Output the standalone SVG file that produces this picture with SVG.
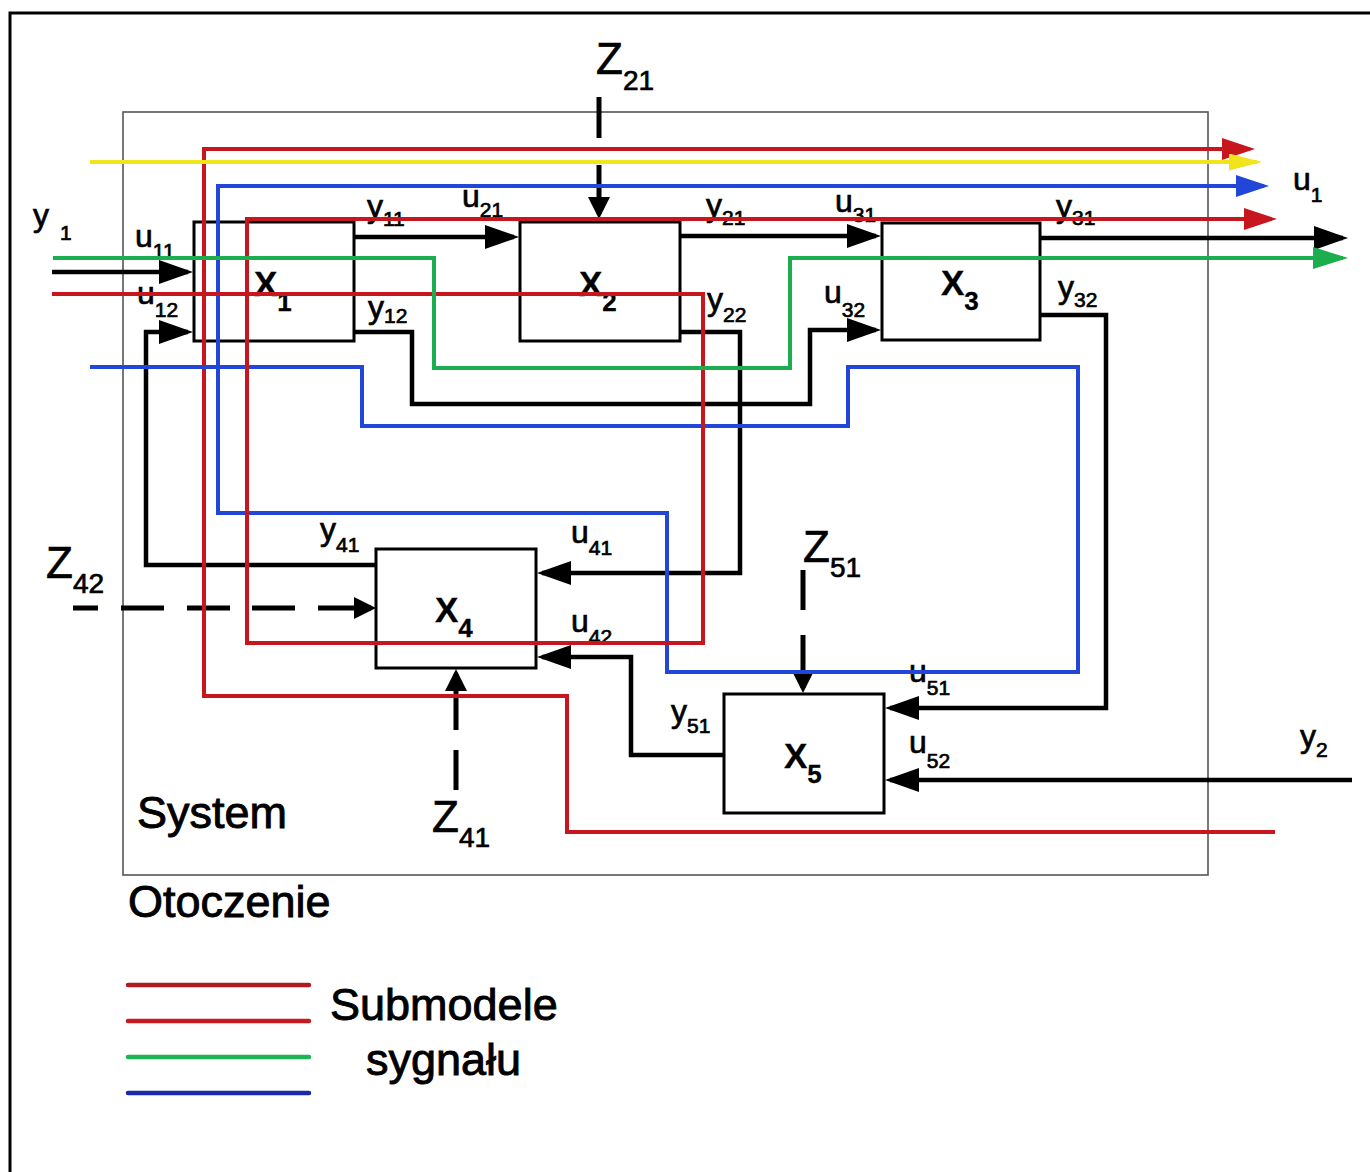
<svg xmlns="http://www.w3.org/2000/svg" width="1370" height="1172" viewBox="0 0 1370 1172">
<style>
text{font-family:"Liberation Sans",Arial,sans-serif;fill:#000;stroke:#000;stroke-width:0.7}
.lbl{font-size:32px}
.sub{font-size:21px}
.zl{font-size:44px}
.zs{font-size:28px}
.xl{font-size:35px;font-weight:bold;stroke-width:0.3}
.xs{font-size:26px;font-weight:bold}
.big{font-size:45px;stroke-width:0.9}
.box{fill:#fff;stroke:#000;stroke-width:3}
.blk{fill:none;stroke:#000;stroke-width:4.5;stroke-linejoin:miter}
.dash{fill:none;stroke:#000;stroke-width:5}
.red{fill:none;stroke:#c8161e;stroke-width:4}
.yel{fill:none;stroke:#f2e41c;stroke-width:4}
.blu{fill:none;stroke:#2246d8;stroke-width:4}
.grn{fill:none;stroke:#1cae4e;stroke-width:4}
</style>
<defs>
<marker id="ab" markerUnits="userSpaceOnUse" markerWidth="34" markerHeight="24" refX="29" refY="12" orient="auto"><path d="M0,0 L34,12 L0,24 z" fill="#000"/></marker>
<marker id="az" markerUnits="userSpaceOnUse" markerWidth="22" markerHeight="22" refX="17" refY="11" orient="auto"><path d="M0,0 L22,11 L0,22 z" fill="#000"/></marker>
<marker id="ar" markerUnits="userSpaceOnUse" markerWidth="33" markerHeight="22" refX="28" refY="11" orient="auto"><path d="M0,0 L33,11 L0,22 z" fill="#c8161e"/></marker>
<marker id="ay" markerUnits="userSpaceOnUse" markerWidth="33" markerHeight="17" refX="28" refY="8.5" orient="auto"><path d="M0,0 L33,8.5 L0,17 z" fill="#f2e41c"/></marker>
<marker id="abl" markerUnits="userSpaceOnUse" markerWidth="33" markerHeight="22" refX="28" refY="11" orient="auto"><path d="M0,0 L33,11 L0,22 z" fill="#2246d8"/></marker>
<marker id="ag" markerUnits="userSpaceOnUse" markerWidth="35" markerHeight="22" refX="30" refY="11" orient="auto"><path d="M0,0 L35,11 L0,22 z" fill="#1cae4e"/></marker>
</defs>
<rect width="1370" height="1172" fill="#fff"/>
<g id="frame">
<path d="M10,1172 V13 H1370" fill="none" stroke="#000" stroke-width="3"/>
<rect id="system" x="123" y="112" width="1085" height="763" fill="none" stroke="#555" stroke-width="1.6"/>
</g>
<g id="connectors">
<path class="blk" d="M52,272 H188" marker-end="url(#ab)"/>
<path class="blk" d="M376,565 H146 V332 H188" marker-end="url(#ab)"/>
<path class="blk" d="M354,237 H514" marker-end="url(#ab)"/>
<path class="blk" d="M680,236 H876" marker-end="url(#ab)"/>
<path class="blk" d="M354,332 H412 V404 H810 V330 H876" marker-end="url(#ab)"/>
<path class="blk" d="M680,332 H740 V573 H542" marker-end="url(#ab)"/>
<path class="blk" d="M1040,238 H1343" marker-end="url(#ab)"/>
<path class="blk" d="M1040,315 H1106 V708 H890" marker-end="url(#ab)"/>
<path class="blk" d="M1352,780 H890" marker-end="url(#ab)"/>
<path class="blk" d="M724,755 H631 V657 H542" marker-end="url(#ab)"/>
<path class="dash" d="M599,97 V138"/>
<path class="dash" d="M599,165 V214" marker-end="url(#az)"/>
<path class="dash" d="M73,608 H98 M121,608 H164 M187,608 H230 M252,608 H295"/>
<path class="dash" d="M318,608 H371" marker-end="url(#az)"/>
<path class="dash" d="M803,570 V610"/>
<path class="dash" d="M803,635 V688" marker-end="url(#az)"/>
<path class="dash" d="M456,790 V750"/>
<path class="dash" d="M456,730 V674" marker-end="url(#az)"/>
</g>
<g id="X1"><rect class="box" x="194" y="222" width="160" height="119"/><text class="xl" x="254" y="296">X<tspan class="xs" y="311">1</tspan></text></g>
<g id="X2"><rect class="box" x="520" y="222" width="160" height="119"/><text class="xl" x="579" y="296">X<tspan class="xs" y="311">2</tspan></text></g>
<g id="X3"><rect class="box" x="882" y="223" width="158" height="117"/><text class="xl" x="941" y="295">X<tspan class="xs" y="310">3</tspan></text></g>
<g id="X4"><rect class="box" x="376" y="549" width="160" height="119"/><text class="xl" x="435" y="622">X<tspan class="xs" y="637">4</tspan></text></g>
<g id="X5"><rect class="box" x="724" y="694" width="160" height="119"/><text class="xl" x="784" y="768">X<tspan class="xs" y="783">5</tspan></text></g>
<g id="labels">
<text class="lbl" x="33" y="226">y<tspan class="sub" x="60" y="240">1</tspan></text>
<text class="lbl" x="135" y="247">u<tspan class="sub" y="258">11</tspan></text>
<text class="lbl" x="137" y="304">u<tspan class="sub" y="317">12</tspan></text>
<text class="lbl" x="367" y="217">y<tspan class="sub" y="226">11</tspan></text>
<text class="lbl" x="368" y="318">y<tspan class="sub" y="323">12</tspan></text>
<text class="lbl" x="462" y="207">u<tspan class="sub" y="217">21</tspan></text>
<text class="lbl" x="706" y="216">y<tspan class="sub" y="225">21</tspan></text>
<text class="lbl" x="707" y="310">y<tspan class="sub" y="322">22</tspan></text>
<text class="lbl" x="835" y="212">u<tspan class="sub" y="222">31</tspan></text>
<text class="lbl" x="824" y="303">u<tspan class="sub" y="317">32</tspan></text>
<text class="lbl" x="1056" y="217">y<tspan class="sub" y="225">31</tspan></text>
<text class="lbl" x="1058" y="298">y<tspan class="sub" y="307">32</tspan></text>
<text class="lbl" x="1293" y="190">u<tspan class="sub" y="202">1</tspan></text>
<text class="lbl" x="320" y="540">y<tspan class="sub" y="552">41</tspan></text>
<text class="lbl" x="571" y="543">u<tspan class="sub" y="555">41</tspan></text>
<text class="lbl" x="571" y="632">u<tspan class="sub" y="644">42</tspan></text>
<text class="lbl" x="909" y="682">u<tspan class="sub" y="695">51</tspan></text>
<text class="lbl" x="671" y="722">y<tspan class="sub" y="733">51</tspan></text>
<text class="lbl" x="909" y="753">u<tspan class="sub" y="768">52</tspan></text>
<text class="lbl" x="1300" y="747">y<tspan class="sub" y="757">2</tspan></text>
<text class="zl" x="596" y="74">Z<tspan class="zs" y="90">21</tspan></text>
<text class="zl" x="46" y="578">Z<tspan class="zs" y="593">42</tspan></text>
<text class="zl" x="803" y="562">Z<tspan class="zs" y="577">51</tspan></text>
<text class="zl" x="432" y="832">Z<tspan class="zs" y="847">41</tspan></text>
<text class="big" x="137" y="828">System</text>
<text class="big" x="128" y="917">Otoczenie</text>
</g>
<g id="signal-submodels">
<path class="red" d="M1275,832 H567 V696 H204 V149 H1250" marker-end="url(#ar)"/>
<path class="yel" d="M90,162 H1257" marker-end="url(#ay)"/>
<path class="blu" d="M90,367 H362 V426 H848 V367 H1078 V672 H667 V513 H218 V186 H1264" marker-end="url(#abl)"/>
<path class="red" d="M52,294 H703 V643 H247 V219 H1272" marker-end="url(#ar)"/>
<path class="grn" d="M53,258 H434 V368 H790 V258 H1343" marker-end="url(#ag)"/>
</g>
<g id="legend">
<line x1="128" y1="985" x2="309" y2="985" stroke="#b01a22" stroke-width="4.5" stroke-linecap="round"/>
<line x1="128" y1="1021" x2="309" y2="1021" stroke="#c41a22" stroke-width="4.5" stroke-linecap="round"/>
<line x1="128" y1="1057" x2="309" y2="1057" stroke="#1cb454" stroke-width="4.5" stroke-linecap="round"/>
<line x1="128" y1="1093" x2="309" y2="1093" stroke="#1a2aaa" stroke-width="4.5" stroke-linecap="round"/>
<text class="big" x="330" y="1020">Submodele</text>
<text class="big" x="366" y="1075">sygnału</text>
</g>
</svg>
